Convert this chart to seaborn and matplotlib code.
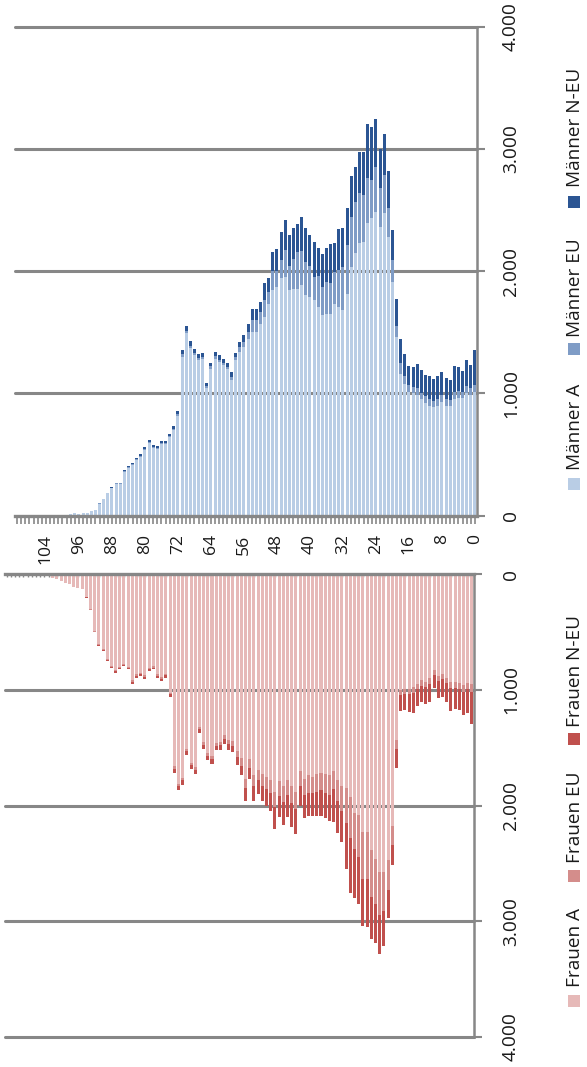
import matplotlib
matplotlib.use("Agg")
import matplotlib.pyplot as plt
import matplotlib.patches as mpatches
import pandas as pd
import seaborn as sns

# age classes 0 .. 111
ages = list(range(112))

men_a = [1010, 990, 1000, 960, 960, 950, 900, 900, 930, 900,
         890, 900, 920, 950, 990, 1000, 1010, 1080, 1160, 1460,
         1913, 2281, 2473, 2363, 2486, 2432, 2391, 2240, 2227, 2145,
         2035, 1817, 1680, 1708, 1735, 1653, 1653, 1639, 1708, 1762,
         1790, 1803, 1885, 1858, 1858, 1844, 1953, 1940, 1872, 1844,
         1735, 1626, 1571, 1503, 1503, 1448, 1380, 1339, 1270, 1107,
         1202, 1230, 1257, 1284, 1200, 1040, 1280, 1275, 1310, 1370,
         1490, 1300, 815, 700, 640, 582, 583, 545, 556, 590,
         538, 482, 456, 417, 389, 357, 261, 260, 225, 181,
         133, 98, 47, 35, 24, 24, 14, 18, 11, 8,
         5, 3, 2, 1, 1, 0, 0, 0, 0, 0, 0, 0]
men_eu = [60, 50, 60, 50, 60, 60, 45, 50, 55, 50,
          50, 55, 55, 55, 55, 50, 55, 65, 85, 95,
          177, 233, 314, 315, 369, 314, 369, 380, 410, 423,
          410, 400, 355, 300, 260, 246, 260, 233, 250, 191,
          250, 270, 280, 300, 240, 200, 220, 150, 130, 160,
          96, 136, 96, 95, 100, 55, 41, 41, 28, 27,
          14, 19, 20, 20, 20, 17, 20, 18, 20, 20,
          22, 22, 15, 12, 11, 10, 9, 9, 9, 10,
          9, 7, 7, 6, 5, 5, 4, 3, 3, 2,
          2, 1, 1, 0, 0, 0, 0, 0, 0, 0,
          0, 0, 0, 0, 0, 0, 0, 0, 0, 0, 0, 0]
men_neu = [288, 190, 216, 173, 196, 211, 167, 178, 190, 189,
           175, 184, 173, 189, 198, 166, 159, 180, 203, 221,
           246, 306, 333, 319, 388, 432, 442, 358, 341, 287,
           334, 297, 315, 336, 232, 322, 273, 267, 228, 287,
           255, 282, 275, 227, 257, 251, 245, 232, 176, 149,
           117, 137, 82, 96, 91, 68, 54, 41, 35, 41,
           33, 30, 34, 35, 31, 30, 33, 32, 36, 36,
           37, 36, 25, 20, 18, 15, 15, 14, 14, 15,
           13, 11, 10, 9, 8, 7, 5, 5, 4, 3,
           2, 2, 1, 1, 1, 1, 0, 0, 0, 0,
           0, 0, 0, 0, 0, 0, 0, 0, 0, 0, 0, 0]

women_a = [950, 940, 960, 940, 930, 930, 900, 860, 880, 830,
           900, 930, 920, 950, 980, 990, 990, 1000, 1434, 2179,
           2474, 2575, 2575, 2460, 2387, 2228, 2228, 2084, 2069, 1925,
           1853, 1830, 1780, 1700, 1740, 1730, 1720, 1730, 1750, 1740,
           1770, 1700, 1880, 1830, 1780, 1830, 1790, 1880, 1780, 1750,
           1730, 1690, 1740, 1600, 1770, 1590, 1530, 1440, 1430, 1390,
           1450, 1460, 1570, 1545, 1450, 1320, 1665, 1630, 1510, 1760,
           1810, 1660, 1025, 860, 892, 865, 798, 810, 875, 856,
           868, 920, 800, 775, 801, 832, 793, 734, 648, 608,
           493, 304, 200, 127, 121, 108, 85, 80, 57, 45,
           32, 20, 12, 8, 5, 3, 2, 1, 1, 0, 0, 0]
women_eu = [70, 55, 60, 50, 55, 55, 45, 45, 45, 40,
            50, 45, 45, 45, 50, 50, 45, 45, 80, 165,
            254, 333, 367, 390, 405, 405, 405, 361, 304, 360,
            300, 220, 180, 160, 170, 160, 150, 150, 140, 150,
            140, 130, 150, 150, 130, 140, 130, 130, 110, 110,
            100, 90, 95, 75, 80, 65, 55, 45, 40, 35,
            30, 28, 30, 28, 25, 22, 25, 23, 22, 23,
            22, 22, 16, 14, 13, 12, 11, 11, 11, 11,
            11, 11, 9, 9, 9, 9, 8, 8, 7, 6,
            5, 3, 2, 1, 1, 1, 1, 0, 0, 0,
            0, 0, 0, 0, 0, 0, 0, 0, 0, 0, 0, 0]
women_neu = [272, 205, 194, 181, 177, 200, 160, 156, 142, 119,
             160, 144, 140, 147, 167, 151, 142, 138, 159, 174,
             240, 304, 340, 335, 363, 415, 407, 407, 425, 472,
             394, 266, 276, 284, 225, 220, 220, 207, 197, 197,
             200, 170, 212, 210, 190, 195, 180, 192, 160, 140,
             127, 119, 122, 94, 107, 85, 69, 53, 54, 41,
             44, 36, 39, 37, 34, 35, 38, 35, 35, 38,
             38, 38, 25, 21, 21, 18, 16, 16, 17, 16,
             16, 16, 14, 13, 13, 13, 13, 11, 9, 9,
             7, 5, 3, 2, 2, 1, 1, 1, 1, 1,
             0, 0, 0, 0, 0, 0, 0, 0, 0, 0, 0, 0]

value_ticks = [0, 1000, 2000, 3000, 4000]
value_labels = ["0", "1.000", "2.000", "3.000", "4.000"]
age_ticks = list(range(0, 105, 8))

men_names = ["Männer A", "Männer EU", "Männer N-EU"]
women_names = ["Frauen A", "Frauen EU", "Frauen N-EU"]
men_colors = ["#B9CDE5", "#7F9CC6", "#2B5593"]
women_colors = ["#E6B9B8", "#D48D8B", "#C0504D"]
GRID = "#878787"

sns.set_theme(style="white")
plt.rcParams["font.family"] = ["Open Sans", "DejaVu Sans"]

W, H = 587, 1067
fig = plt.figure(figsize=(W / 100, H / 100), dpi=100)
ax_m = fig.add_axes([15 / W, 1 - 515.6 / H, 462 / W, 488.9 / H])
ax_w = fig.add_axes([4.5 / W, 1 - 1037 / H, 469.5 / W, 463 / H])

order = ages[::-1]  # age 0 on the right


def draw_stack(ax, a, eu, neu, colors):
    df = pd.DataFrame({"age": ages, "A": a, "EU": eu, "NEU": neu})
    df["top_a"] = df["A"]
    df["top_eu"] = df["A"] + df["EU"]
    df["top_neu"] = df["top_eu"] + df["NEU"]
    # draw the longest layer first, shorter ones on top
    for col, c in zip(["top_neu", "top_eu", "top_a"], colors[::-1]):
        sns.barplot(data=df, x="age", y=col, order=order, color=c,
                    saturation=1, width=0.72, errorbar=None,
                    linewidth=0, ax=ax)
    ax.set_xlim(-0.5, len(ages) - 0.5)
    ax.set_xlabel("")
    ax.set_ylabel("")
    for v in value_ticks[1:]:
        ax.axhline(v, color=GRID, lw=2.2, zorder=0.5, clip_on=False)
    ax.set_facecolor("none")
    for s in ["left", "top", "bottom", "right"]:
        ax.spines[s].set_visible(False)
    ax.spines["right"].set_visible(True)
    ax.spines["right"].set_color(GRID)
    ax.spines["right"].set_linewidth(1.8)
    ax.yaxis.tick_right()
    ax.set_yticks(value_ticks)
    ax.set_yticklabels(value_labels, rotation=90, va="center", fontsize=13.8,
                       color="#1a1a1a")
    ax.tick_params(axis="y", which="both", length=6, width=1.5,
                   color=GRID, right=True, left=False, direction="out")


# Männer (top)
draw_stack(ax_m, men_a, men_eu, men_neu, men_colors)
ax_m.set_ylim(0, 4000)
ax_m.spines["bottom"].set_visible(True)
ax_m.spines["bottom"].set_color(GRID)
ax_m.spines["bottom"].set_linewidth(2.4)
ax_m.set_xticks(range(len(ages)))
ax_m.set_xticklabels([str(a) if a in age_ticks else "" for a in order],
                     rotation=90, fontsize=12.6, color="#1a1a1a")
ax_m.tick_params(axis="x", length=5.5, width=1.2, color=GRID, pad=8,
                 bottom=True, direction="out")
ax_m.tick_params(axis="y", pad=12)

# Frauen (bottom, values grow downwards)
draw_stack(ax_w, women_a, women_eu, women_neu, women_colors)
ax_w.set_ylim(4000, 0)
ax_w.spines["top"].set_visible(True)
ax_w.spines["top"].set_color(GRID)
ax_w.spines["top"].set_linewidth(2.4)
ax_w.xaxis.tick_top()
ax_w.set_xticks(range(len(ages)))
ax_w.set_xticklabels([])
ax_w.tick_params(axis="x", length=2.5, width=1.0, color=GRID,
                 top=True, bottom=False, direction="in")
ax_w.tick_params(axis="y", pad=14)


# rotated legends on the right
def legend_item(name, color, marker_y, text_y):
    fig.add_artist(mpatches.Rectangle(((574 - 6) / W, 1 - (marker_y + 6) / H),
                                      12 / W, 12 / H, transform=fig.transFigure,
                                      facecolor=color, edgecolor="none"))
    fig.text(575 / W, 1 - text_y / H, name, rotation=90, ha="center",
             va="bottom", fontsize=13.7, color="#1a1a1a")


for name, c, my, ty in zip(men_names, men_colors, [484, 349, 202], [470, 337, 187]):
    legend_item(name, c, my, ty)
for name, c, my, ty in zip(women_names, women_colors, [1001, 876, 739], [987, 863, 727]):
    legend_item(name, c, my, ty)

fig.savefig("out.png", dpi=100)
